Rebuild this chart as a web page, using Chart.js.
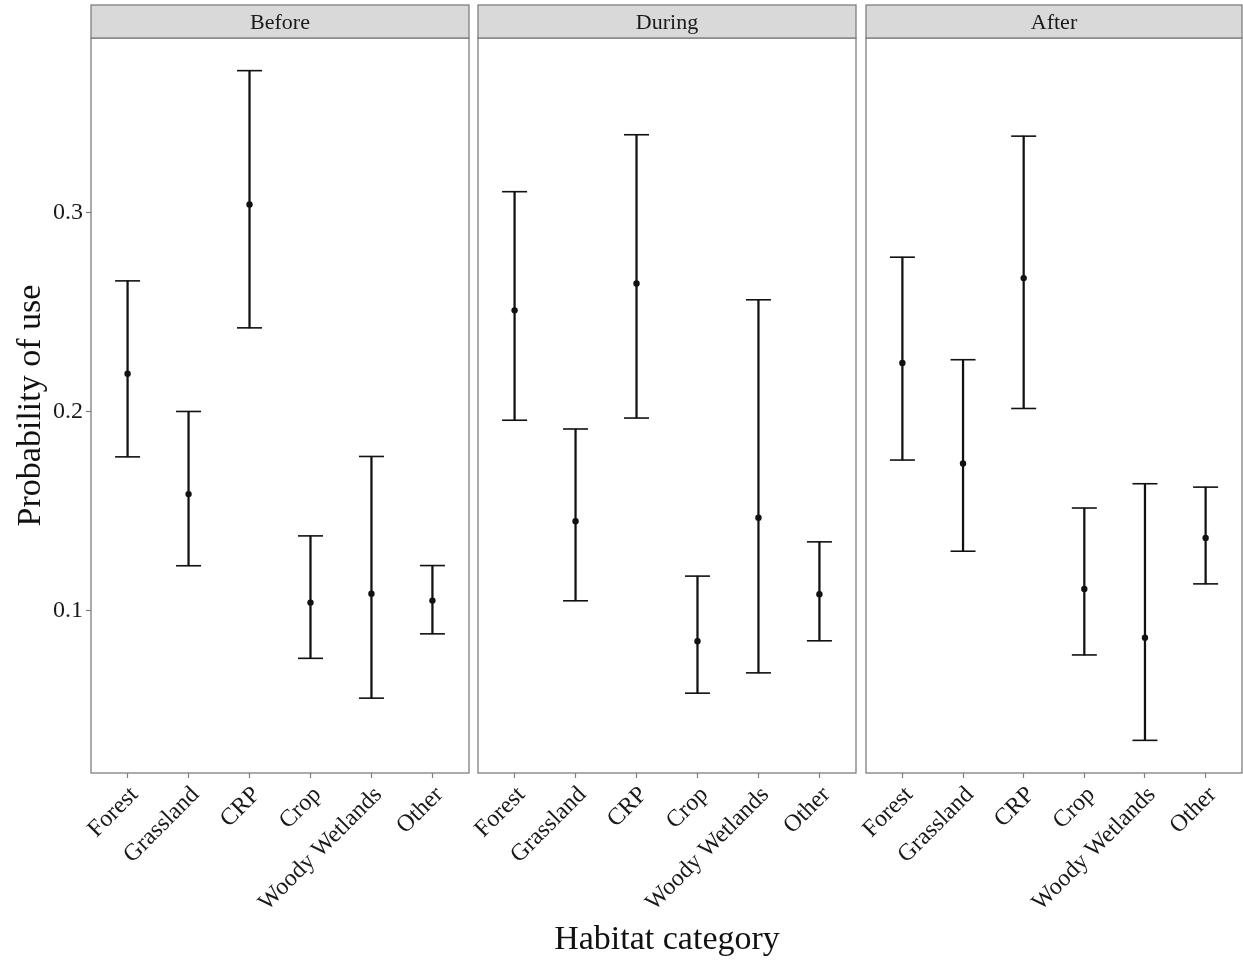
<!DOCTYPE html>
<html>
<head>
<meta charset="utf-8">
<title>Probability of use by habitat category</title>
<script src="https://cdn.jsdelivr.net/npm/chart.js@4/dist/chart.umd.min.js"></script>
<style>
  html, body { margin: 0; padding: 0; background: #ffffff; overflow: hidden; }
  #wrap { position: relative; width: 1243px; height: 961px; overflow: hidden; }
  #wrap canvas { position: absolute; left: 0; top: 0; }
</style>
</head>
<body>
<div id="wrap">
  <canvas id="c0" width="1300" height="961"></canvas>
  <canvas id="c1" width="1300" height="961"></canvas>
  <canvas id="c2" width="1300" height="961"></canvas>
</div>
<script>
// Habitat categories shown on every panel
const categories = ['Forest', 'Grassland', 'CRP', 'Crop', 'Woody Wetlands', 'Other'];
const periods = ['Before', 'During', 'After'];

// Estimated probability of use with lower / upper confidence limits
const beforeMean  = [0.219, 0.1585, 0.304, 0.104, 0.1085, 0.105];
const beforeLower = [0.1772, 0.1225, 0.242, 0.076, 0.056, 0.0883];
const beforeUpper = [0.2656, 0.200, 0.3712, 0.1375, 0.1774, 0.1226];

const duringMean  = [0.2508, 0.1449, 0.2643, 0.0846, 0.1466, 0.1082];
const duringLower = [0.1956, 0.1049, 0.1967, 0.0585, 0.0687, 0.0848];
const duringUpper = [0.3104, 0.1912, 0.339, 0.1173, 0.2561, 0.1345];

const afterMean  = [0.2244, 0.1739, 0.267, 0.1108, 0.0864, 0.1365];
const afterLower = [0.1756, 0.1298, 0.2015, 0.0777, 0.0348, 0.1134];
const afterUpper = [0.2775, 0.226, 0.3383, 0.1515, 0.1637, 0.162];

const yTicks = [0.1, 0.2, 0.3];

const panelData = [
  { mean: beforeMean, lower: beforeLower, upper: beforeUpper },
  { mean: duringMean, lower: duringLower, upper: duringUpper },
  { mean: afterMean,  lower: afterLower,  upper: afterUpper }
];

// horizontal extent of each facet's plotting area
const CW = 1300;
const facetBox = [
  { left: 0,   right: CW - 469 },
  { left: 478, right: CW - 856 },
  { left: 866, right: CW - 1242 }
];

const SERIF = '"Liberation Serif", "Times New Roman", serif';
const BORDER = '#7f7f7f';
const INK = '#111111';

// panel border + grey facet strip with its label
const facetFrame = {
  id: 'facetFrame',
  afterDatasetsDraw(chart, args, opts) {
    const { ctx, chartArea: a } = chart;
    ctx.save();
    ctx.strokeStyle = BORDER;
    ctx.lineWidth = 1.3;
    ctx.strokeRect(a.left, a.top, a.right - a.left, a.bottom - a.top);
    const stripTop = 5;
    ctx.fillStyle = '#d9d9d9';
    ctx.fillRect(a.left, stripTop, a.right - a.left, a.top - stripTop);
    ctx.strokeRect(a.left, stripTop, a.right - a.left, a.top - stripTop);
    ctx.fillStyle = '#1a1a1a';
    ctx.font = '22px ' + SERIF;
    ctx.textAlign = 'center';
    ctx.textBaseline = 'middle';
    ctx.fillText(opts.label, (a.left + a.right) / 2, (stripTop + a.top) / 2 + 2);
    ctx.restore();
  }
};

function makeFacet(idx) {
  const d = panelData[idx];
  const first = idx === 0;
  const middle = idx === 1;
  const pts = arr => arr.map((v, i) => ({ x: i, y: v }));

  new Chart(document.getElementById('c' + idx), {
    type: 'bar',
    data: {
      datasets: [
        {
          // vertical interval lines
          type: 'bar',
          data: categories.map((c, i) => ({ x: i, y: [d.lower[i], d.upper[i]] })),
          backgroundColor: INK,
          borderWidth: 0,
          barThickness: 1.6,
          grouped: false,
          order: 3
        },
        {
          // upper caps
          type: 'line',
          data: pts(d.upper),
          showLine: false,
          pointStyle: 'line',
          pointRadius: 12.5,
          pointBorderWidth: 1.6,
          borderColor: INK,
          order: 2
        },
        {
          // lower caps
          type: 'line',
          data: pts(d.lower),
          showLine: false,
          pointStyle: 'line',
          pointRadius: 12.5,
          pointBorderWidth: 1.6,
          borderColor: INK,
          order: 2
        },
        {
          // point estimates
          type: 'line',
          data: pts(d.mean),
          showLine: false,
          pointStyle: 'circle',
          pointRadius: 3.2,
          pointBackgroundColor: INK,
          pointBorderColor: INK,
          pointBorderWidth: 0,
          order: 1
        }
      ]
    },
    options: {
      responsive: false,
      animation: false,
      events: [],
      layout: {
        padding: { left: facetBox[idx].left, right: facetBox[idx].right, top: 38, bottom: 0 }
      },
      plugins: {
        legend: { display: false },
        tooltip: { enabled: false },
        facetFrame: { label: periods[idx] }
      },
      scales: {
        x: {
          type: 'linear',
          offset: false,
          min: -0.6,
          max: 5.6,
          afterBuildTicks(scale) { scale.ticks = categories.map((c, i) => ({ value: i })); },
          afterFit(scale) { scale.height = 188; scale.paddingLeft = 0; scale.paddingRight = 0; },
          grid: { offset: false, drawOnChartArea: false, drawTicks: true, tickLength: 5, tickColor: BORDER, tickWidth: 1.2 },
          border: { display: false },
          ticks: {
            autoSkip: false,
            minRotation: 45,
            maxRotation: 45,
            padding: 3,
            labelOffset: 7,
            color: '#1a1a1a',
            font: { family: SERIF, size: 24 },
            callback: v => categories[v]
          },
          title: {
            display: middle,
            text: 'Habitat category',
            color: INK,
            font: { family: SERIF, size: 34 },
            padding: { top: 0, bottom: 1 }
          }
        },
        y: {
          display: first,
          min: 0.0184,
          max: 0.3876,
          afterBuildTicks(scale) { scale.ticks = yTicks.map(v => ({ value: v })); },
          afterFit(scale) { if (first) scale.width = 91; scale.paddingTop = 0; scale.paddingBottom = 0; },
          grid: { drawOnChartArea: false, drawTicks: true, tickLength: 5, tickColor: BORDER, tickWidth: 1.2 },
          border: { display: false },
          ticks: {
            padding: 3,
            color: '#1a1a1a',
            font: { family: SERIF, size: 24 },
            callback: v => v.toFixed(1)
          },
          title: {
            display: first,
            text: 'Probability of use',
            color: INK,
            font: { family: SERIF, size: 34 },
            padding: { top: 11, bottom: 0 }
          }
        }
      }
    },
    plugins: [facetFrame]
  });
}

[0, 1, 2].forEach(makeFacet);
</script>
</body>
</html>
